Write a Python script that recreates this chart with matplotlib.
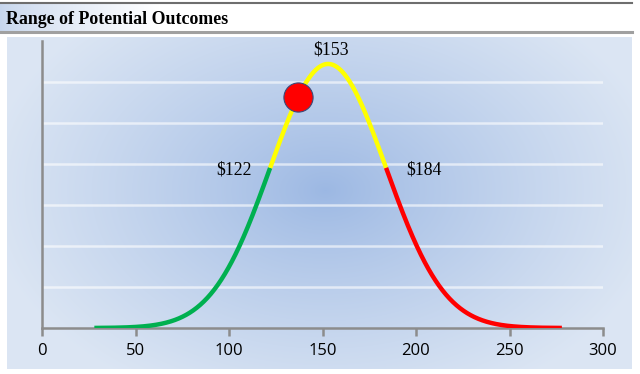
import numpy as np
import matplotlib
matplotlib.use("Agg")
import matplotlib.pyplot as plt

# ---- data ----
mean_value = 153          # labelled peak
sd_value = 31             # 122 and 184 are ±1 sd
peak_height = 6.44        # curve top in grid units
curve_start, curve_end = 28, 278
low_label, mid_label, high_label = "$122", "$153", "$184"
low_cut, high_cut = 122, 184
dot_x = 137
xticks = [0, 50, 100, 150, 200, 250, 300]
title = "Range of Potential Outcomes"

W, H = 640, 374
fig = plt.figure(figsize=(W / 100, H / 100), dpi=100)
fig.patch.set_facecolor("white")

def fx(px):
    return px / W

def fy(py):
    return 1 - py / H

# title band gradient
band = fig.add_axes([0, fy(31), fx(632), fy(3) - fy(31)])
band.axis("off")
g = np.linspace(0, 1, 400)
c0 = np.array([0.78, 0.84, 0.93])
c1 = np.array([1.0, 1.0, 1.0])
t = np.clip(g / 0.25, 0, 1) ** 0.8
img = (c0[None, :] * (1 - t[:, None]) + c1[None, :] * t[:, None])[None, :, :]
band.imshow(img, aspect="auto", extent=[0, 1, 0, 1])
band.set_xlim(0, 1); band.set_ylim(0, 1)
fig.lines.append(plt.Line2D([0, fx(632)], [fy(3), fy(3)], color="#6e6e6e", lw=1.5, transform=fig.transFigure))
fig.lines.append(plt.Line2D([0, fx(632)], [fy(31.5), fy(31.5)], color="#a0a0a0", lw=2.2, transform=fig.transFigure))
fig.text(fx(6), fy(23.5), title, fontsize=12.9, fontweight="bold", family="Liberation Serif",
         ha="left", va="baseline", color="black")

# panel background radial gradient
pl, pr, pt, pb = 7, 632, 37, 369
bg = fig.add_axes([fx(pl), fy(pb), fx(pr) - fx(pl), fy(pt) - fy(pb)])
bg.axis("off")
xs = np.arange(pl, pr)
ys = np.arange(pt, pb)
X, Y = np.meshgrid(xs, ys)
cx, cy, rx, ry = 325, 190, 340, 230
r = np.sqrt(((X - cx) / rx) ** 2 + ((Y - cy) / ry) ** 2)
r = np.clip(r, 0, 1) ** 0.85
center = np.array([0.61, 0.72, 0.89])
edge = np.array([0.86, 0.90, 0.955])
im = center[None, None, :] * (1 - r[..., None]) + edge[None, None, :] * r[..., None]
bg.imshow(im, aspect="auto", extent=[0, 1, 0, 1], interpolation="bilinear")
bg.set_xlim(0, 1); bg.set_ylim(0, 1)

# main axes
ax = fig.add_axes([fx(42), fy(328), fx(603) - fx(42), fy(41) - fy(328)])
ax.patch.set_alpha(0)
ax.set_xlim(0, 300)
ax.set_ylim(0, 7)
for yv in range(1, 7):
    ax.axhline(yv, color="white", lw=1.8, alpha=0.6, zorder=1)

def curve(x):
    return peak_height * np.exp(-0.5 * ((x - mean_value) / sd_value) ** 2)

segs = [(curve_start, low_cut, "#00b050"), (low_cut, high_cut, "#ffff00"), (high_cut, curve_end, "#ff0000")]
for a, b, col in segs:
    xx = np.linspace(a, b, 300)
    ax.plot(xx, curve(xx), color=col, lw=3.2, solid_capstyle="butt", zorder=3)

ax.plot([dot_x], [curve(dot_x)], "o", ms=21, mfc="#ff0000", mec="#3a4a7a", mew=0.8, zorder=5)

ax.text(mean_value + 1.5, 6.58, mid_label, fontsize=12.8, family="Liberation Serif", ha="center", va="bottom")
ax.text(low_cut - 19.5, 3.85, low_label, fontsize=12.8, family="Liberation Serif", ha="center", va="center")
ax.text(high_cut + 20, 3.85, high_label, fontsize=12.8, family="Liberation Serif", ha="center", va="center")

for s in ["top", "right"]:
    ax.spines[s].set_visible(False)
for s in ["left", "bottom"]:
    ax.spines[s].set_color("#8c8c8c")
    ax.spines[s].set_linewidth(1.8)
ax.set_yticks([])
ax.set_xticks(xticks)
ax.set_xticklabels([str(v) for v in xticks], fontsize=12, family="Open Sans")
ax.tick_params(axis="x", direction="out", length=6, width=1.8, color="#8c8c8c", pad=5, labelcolor="black")

fig.savefig("out.png", dpi=100)
